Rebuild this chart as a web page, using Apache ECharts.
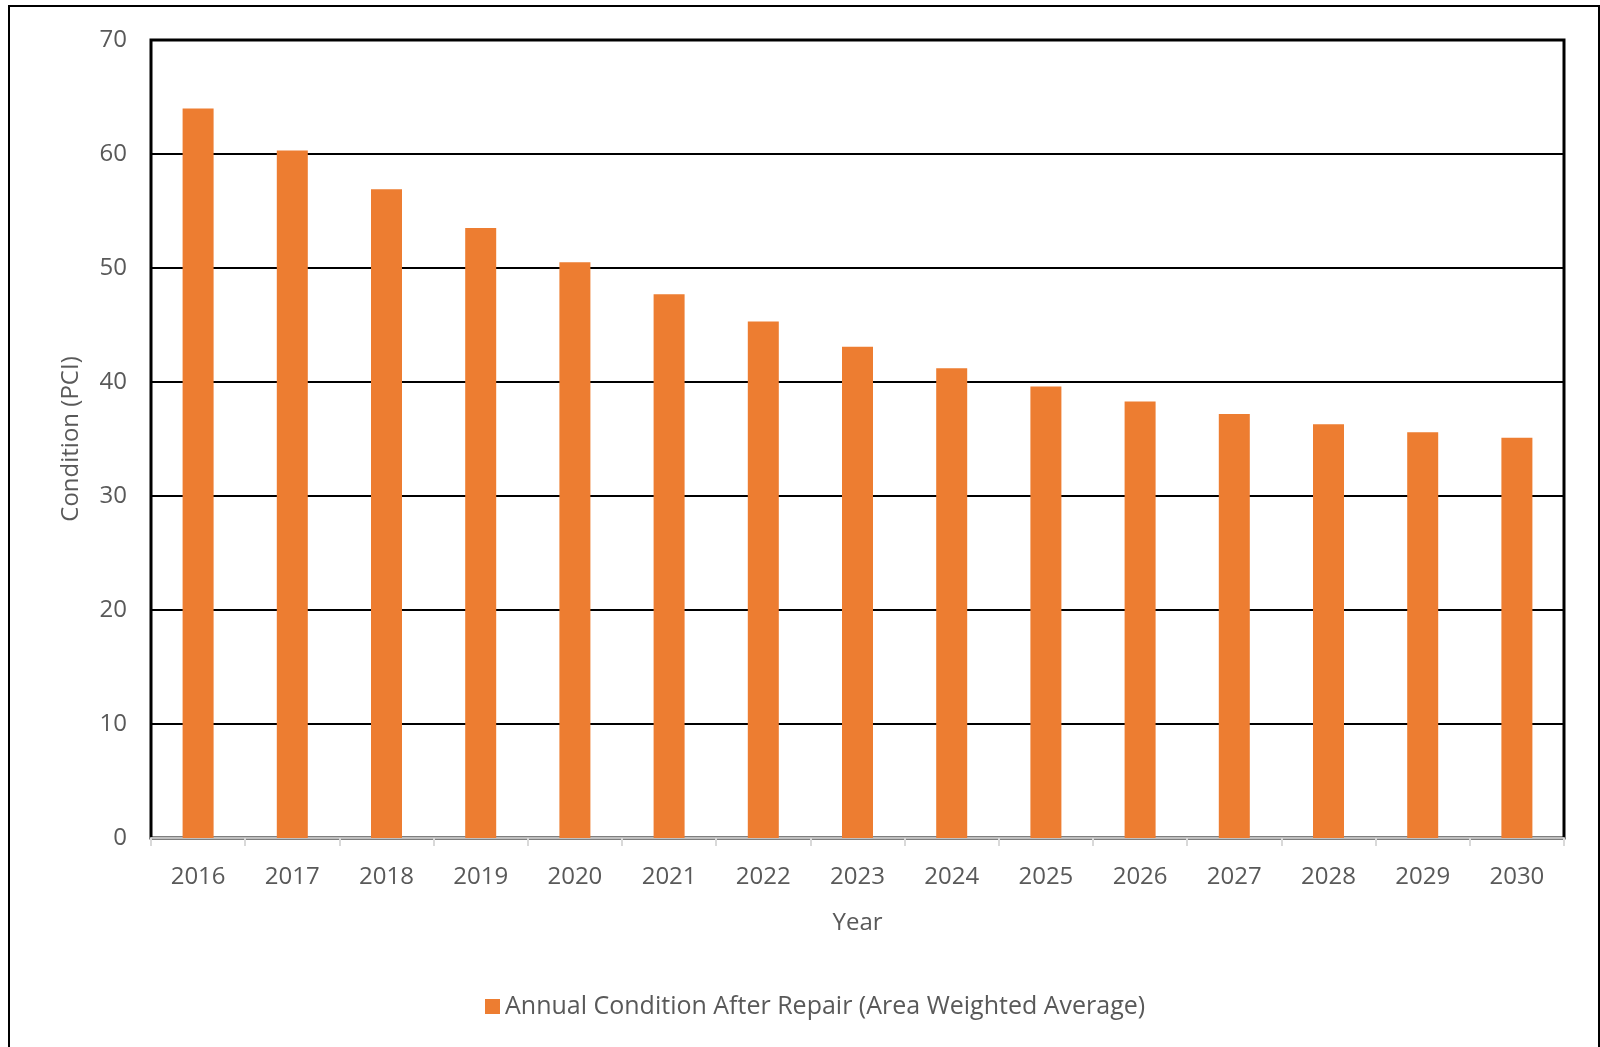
<!DOCTYPE html>
<html><head><meta charset="utf-8">
<script src="https://cdn.jsdelivr.net/npm/echarts@6/dist/echarts.min.js"></script>
<style>html,body{margin:0;padding:0;background:#fff}#c{width:1600px;height:1047px}</style>
</head><body><div id="c"></div>
<script>
const years = ['2016','2017','2018','2019','2020','2021','2022','2023','2024','2025','2026','2027','2028','2029','2030'];
const condition = [64.0, 60.3, 56.9, 53.5, 50.5, 47.7, 45.3, 43.1, 41.2, 39.6, 38.3, 37.2, 36.3, 35.6, 35.1];
const seriesName = 'Annual Condition After Repair (Area Weighted Average)';
const yTicks = {min: 0, max: 70, interval: 10};

const chart = echarts.init(document.getElementById('c'));
const font = '"Open Sans", "Liberation Sans", sans-serif';
chart.setOption({
  animation: false,
  textStyle: {fontFamily: font},
  graphic: [{type: 'rect', shape: {x: 9, y: 6, width: 1590, height: 1060}, style: {fill: 'none', stroke: '#000', lineWidth: 2}, z: -1}],
  grid: {left: 151, right: 36, top: 40, bottom: 209, show: true, borderColor: '#000', borderWidth: 3, backgroundColor: 'transparent'},
  legend: {bottom: 23, left: 480, itemWidth: 15, itemHeight: 15, itemGap: 6,
    textStyle: {color: '#595959', fontSize: 25, fontFamily: font}, data: [{name: seriesName, icon: 'rect'}]},
  xAxis: {type: 'category', data: years, name: 'Year', nameLocation: 'middle', nameGap: 73,
    nameTextStyle: {color: '#595959', fontSize: 24, fontFamily: font},
    axisLine: {lineStyle: {color: '#bfbfbf', width: 2}},
    axisTick: {show: true, length: 8, lineStyle: {color: '#d9d9d9', width: 2}},
    axisLabel: {color: '#595959', fontSize: 24, margin: 27, fontFamily: font}},
  yAxis: {type: 'value', min: yTicks.min, max: yTicks.max, interval: yTicks.interval,
    name: 'Condition (PCI)', nameLocation: 'middle', nameGap: 68, nameRotate: 90,
    nameTextStyle: {color: '#595959', fontSize: 24, fontFamily: font},
    axisLine: {show: false}, axisTick: {show: false},
    axisLabel: {color: '#595959', fontSize: 24, margin: 24, fontFamily: font},
    splitLine: {lineStyle: {color: '#000', width: 2}}},
  series: [{name: seriesName, type: 'bar', data: condition, barWidth: 31,
    itemStyle: {color: '#ED7D31'}}]
});
</script></body></html>
